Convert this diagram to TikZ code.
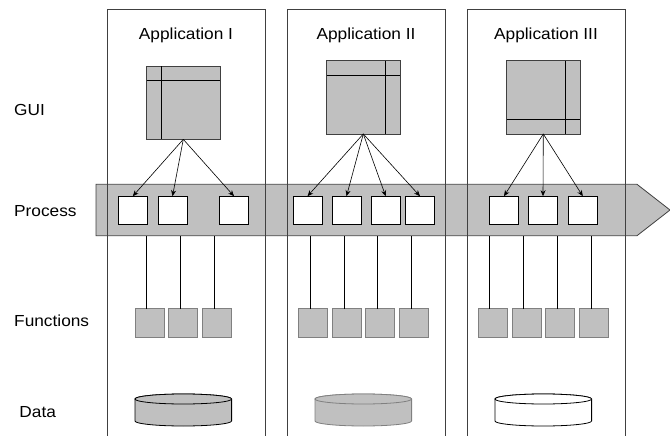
\documentclass[tikz,border=0pt]{standalone}
\usepackage{fontspec}
\setmainfont[FakeStretch=1.08]{Liberation Sans}
\usetikzlibrary{arrows.meta}
\definecolor{boxgray}{HTML}{C0C0C0}
\definecolor{edgegray}{HTML}{808080}
\definecolor{darkedge}{HTML}{404040}
\begin{document}
\begin{tikzpicture}[x=1pt,y=-1pt,
  lbl/.style={font=\fontsize{16}{19}\selectfont, inner sep=0pt},
  window/.style={draw=darkedge, fill=boxgray, line width=0.8pt, minimum width=73.3pt, minimum height=73.3pt, inner sep=0pt, outer sep=0pt},
  procbox/.style={draw=black, fill=white, line width=0.8pt, minimum width=29pt, minimum height=28pt, inner sep=0pt, outer sep=0pt},
  funcbox/.style={draw=edgegray, fill=boxgray, line width=0.8pt, minimum width=29pt, minimum height=29pt, inner sep=0pt, outer sep=0pt},
  column/.style={draw=darkedge, line width=0.9pt},
  callarrow/.style={draw=black, line width=0.6pt, -{Stealth[length=6pt,width=5pt]}},
  link/.style={draw=black, line width=0.6pt},
  band/.style={draw=darkedge, fill=boxgray, line width=0.8pt}
]
\useasboundingbox (0,0) rectangle (670,436);

% process band
\draw[band] (96,184.3) -- (637,184.3) -- (670,210) -- (637,235.7) -- (96,235.7) -- cycle;
\coordinate (bandbot) at (0,235.7);

% application columns
\draw[column] (107.3,440) -- (107.3,9.3) -- (265,9.3) -- (265,440);
\draw[column] (287.3,440) -- (287.3,9.3) -- (445,9.3) -- (445,440);
\draw[column] (467.3,440) -- (467.3,9.3) -- (625,9.3) -- (625,440);

% titles
\node[lbl, anchor=base] (t1) at (186,40) {Application I};
\node[lbl, anchor=base] (t2) at (366,40) {Application II};
\node[lbl, anchor=base] (t3) at (546,40) {Application III};

% row labels
\node[lbl, anchor=base west] (lgui) at (14,116) {GUI};
\node[lbl, anchor=base west] (lproc) at (14,216.7) {Process};
\node[lbl, anchor=base west] (lfunc) at (14,326) {Functions};
\node[lbl, anchor=base west] (ldata) at (19.3,417) {Data};

% GUI windows
\node[window] (g1) at (183.3,102.7) {};
\draw[black, line width=0.8pt] ([xshift=14.3pt]g1.north west) -- ([xshift=14.3pt]g1.south west);
\draw[black, line width=0.8pt] ([yshift=-14.7pt]g1.north west) -- ([yshift=-14.7pt]g1.north east);
\node[window] (g2) at (363.3,97.3) {};
\draw[black, line width=0.8pt] ([xshift=-14.3pt]g2.north east) -- ([xshift=-14.3pt]g2.south east);
\draw[black, line width=0.8pt] ([yshift=-14.3pt]g2.north west) -- ([yshift=-14.3pt]g2.north east);
\node[window] (g3) at (543.3,97.3) {};
\draw[black, line width=0.8pt] ([xshift=-14.3pt]g3.north east) -- ([xshift=-14.3pt]g3.south east);
\draw[black, line width=0.8pt] ([yshift=14.7pt]g3.south west) -- ([yshift=14.7pt]g3.south east);

% process boxes
\node[procbox] (p11) at (132.8,210.2) {};
\node[procbox] (p12) at (172.5,210.2) {};
\node[procbox] (p13) at (234,210.2) {};
\node[procbox] (p21) at (307.5,210.2) {};
\node[procbox] (p22) at (346.5,210.2) {};
\node[procbox] (p23) at (385.7,210.2) {};
\node[procbox] (p24) at (420,210.2) {};
\node[procbox] (p31) at (504,210.2) {};
\node[procbox] (p32) at (543,210.2) {};
\node[procbox] (p33) at (582.8,210.2) {};

% calls
\foreach \p in {p11,p12,p13} \draw[callarrow] (g1.south) -- (\p.north);
\foreach \p in {p21,p22,p23,p24} \draw[callarrow] (g2.south) -- (\p.north);
\foreach \p in {p31,p32,p33} \draw[callarrow] (g3.south) -- (\p.north);

% function boxes
\node[funcbox] (f11) at (149.5,323.3) {};
\node[funcbox] (f12) at (183.3,323.3) {};
\node[funcbox] (f13) at (217.2,323.3) {};
\node[funcbox] (f21) at (313,323.3) {};
\node[funcbox] (f22) at (346.7,323.3) {};
\node[funcbox] (f23) at (380.3,323.3) {};
\node[funcbox] (f24) at (414,323.3) {};
\node[funcbox] (f31) at (492.5,323.3) {};
\node[funcbox] (f32) at (526.5,323.3) {};
\node[funcbox] (f33) at (560.3,323.3) {};
\node[funcbox] (f34) at (594.2,323.3) {};

\foreach \f in {f11,f12,f13,f21,f22,f23,f24,f31,f32,f33,f34}
  \draw[link] ([xshift=-2.8pt]\f.north) -- ([xshift=-2.8pt]\f.north |- bandbot);

% data stores
\foreach \cx/\fc/\dc in {183.3/boxgray/black, 363.3/boxgray/edgegray, 543.3/white/black} {
  \draw[fill=\fc, draw=\dc, line width=0.8pt]
    (\cx-48.3,399) -- (\cx-48.3,421) arc[start angle=180, end angle=360, x radius=48.3, y radius=-5]
    -- (\cx+48.3,399) arc[start angle=0, end angle=180, x radius=48.3, y radius=-5] -- cycle;
  \draw[fill=\fc, draw=\dc, line width=0.8pt] (\cx,399) ellipse[x radius=48.3, y radius=5];
}
\end{tikzpicture}
\end{document}
